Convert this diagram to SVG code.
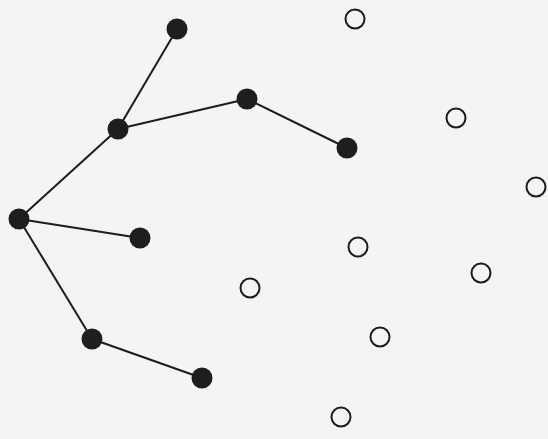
<svg xmlns="http://www.w3.org/2000/svg" width="548" height="439" viewBox="0 0 548 439">
<style>
.bg{fill:#f3f4f6}
.edge{stroke:#1c1c1c;stroke-width:2;fill:none}
.full{fill:#1e1e1e}
.open{fill:none;stroke:#1c1c1c;stroke-width:2}
</style>
<rect class="bg" x="0" y="0" width="548" height="439"/>
<g id="connectors">
<line class="edge" x1="19" y1="219" x2="118" y2="129"/>
<line class="edge" x1="118" y1="129" x2="177" y2="29"/>
<line class="edge" x1="118" y1="129" x2="247" y2="99"/>
<line class="edge" x1="247" y1="99" x2="347" y2="148"/>
<line class="edge" x1="19" y1="219" x2="140" y2="238"/>
<line class="edge" x1="19" y1="219" x2="92" y2="339"/>
<line class="edge" x1="92" y1="339" x2="202" y2="378"/>
</g>
<g id="n1"><circle class="full" cx="19" cy="219" r="10.5"/></g>
<g id="n2"><circle class="full" cx="118" cy="129" r="10.5"/></g>
<g id="n3"><circle class="full" cx="177" cy="29" r="10.5"/></g>
<g id="n4"><circle class="full" cx="247" cy="99" r="10.5"/></g>
<g id="n5"><circle class="full" cx="347" cy="148" r="10.5"/></g>
<g id="n6"><circle class="full" cx="140" cy="238" r="10.5"/></g>
<g id="n7"><circle class="full" cx="92" cy="339" r="10.5"/></g>
<g id="n8"><circle class="full" cx="202" cy="378" r="10.5"/></g>
<g id="o1"><circle class="open" cx="355" cy="19" r="9.5"/></g>
<g id="o2"><circle class="open" cx="456" cy="118" r="9.5"/></g>
<g id="o3"><circle class="open" cx="536" cy="187" r="9.5"/></g>
<g id="o4"><circle class="open" cx="358" cy="247" r="9.5"/></g>
<g id="o5"><circle class="open" cx="481" cy="273" r="9.5"/></g>
<g id="o6"><circle class="open" cx="380" cy="337" r="9.5"/></g>
<g id="o7"><circle class="open" cx="341" cy="417" r="9.5"/></g>
<g id="o8"><circle class="open" cx="250" cy="288" r="9.5"/></g>
</svg>
